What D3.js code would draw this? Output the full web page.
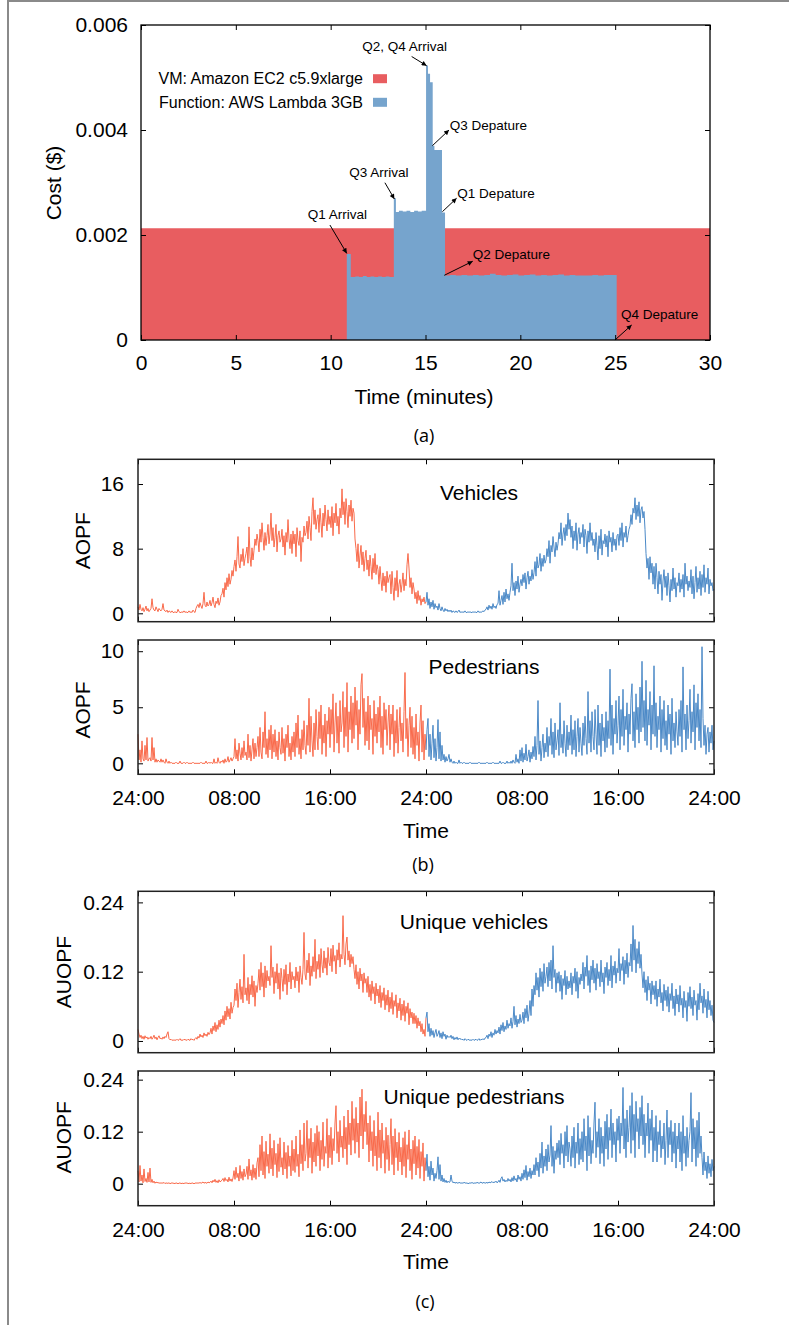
<!DOCTYPE html>
<html><head><meta charset="utf-8">
<script src="https://cdn.jsdelivr.net/npm/d3@7"></script>
<style>
body{margin:0;background:#fff;}
svg{display:block;font-family:"Liberation Sans",Arial,Helvetica,sans-serif;}
</style></head><body>
<svg id="c" width="789" height="1325"></svg>
<script>
// ---------------- DATA ----------------
// (a) cost over time (minutes)
const vmTime = [0, 30];
const vmCost = [0.00213, 0.00213];
const fnTime = [10.85,11.06,11.3,11.5,11.7,11.9,12.1,12.3,12.5,12.7,12.9,13.1,
  13.33,13.44,13.6,13.8,14.0,14.2,14.4,14.6,14.8,
  15.03,15.13,15.24,15.38,15.47,15.87,
  16.03,16.3,16.6,16.9,17.2,17.5,17.8,18.1,18.4,18.7,19.0,19.3,19.6,19.9,20.2,20.5,20.8,
  21.1,21.4,21.7,22.0,22.3,22.6,22.9,23.2,23.5,23.8,24.1,24.4,24.7,25.08];
const fnCost = [0.00164,0.00120,0.00121,0.00120,0.00122,0.00120,0.00121,0.00120,0.00121,0.00120,0.00121,0.00120,
  0.00270,0.00244,0.00246,0.00245,0.00246,0.00244,0.00246,0.00245,0.00246,
  0.00523,0.00507,0.00491,0.00370,0.00362,0.00243,
  0.00123,0.00124,0.00123,0.00124,0.00123,0.00124,0.00123,0.00124,0.00126,0.00124,0.00123,0.00124,0.00125,0.00123,0.00124,0.00125,0.00123,
  0.00124,0.00123,0.00124,0.00125,0.00123,0.00124,0.00123,0.00123,0.00123,0.00124,0.00123,0.00124,0.00124,0];
const costTicks = [0, 0.002, 0.004, 0.006];
const costTickLabels = ["0", "0.002", "0.004", "0.006"];
const minuteTicks = [0, 5, 10, 15, 20, 25, 30];
const legendLabels = ["VM: Amazon EC2 c5.9xlarge", "Function: AWS Lambda 3GB"];
// annotations in data units: text anchor point, arrow start, arrow tip
const annotations = [
  {label:"Q1 Arrival",     tx:10.36, ty:0.002394, ax:9.96,  ay:0.00219,  bx:10.85, by:0.00165},
  {label:"Q3 Arrival",     tx:12.54, ty:0.003194, ax:12.86, ay:0.002996, bx:13.36, by:0.002686},
  {label:"Q2, Q4 Arrival", tx:13.90, ty:0.0056,   ax:14.27, ay:0.0054,   bx:15.06, by:0.005225},
  {label:"Q3 Depature",    tx:16.28, ty:0.00409,  ax:15.36, ay:0.0037,   bx:16.24, by:0.0040},
  {label:"Q1 Depature",    tx:16.68, ty:0.002794, ax:15.89, ay:0.002444, bx:16.64, by:0.0027},
  {label:"Q2 Depature",    tx:17.49, ty:0.001632, ax:15.99, ay:0.001232, bx:17.49, by:0.0015},
  {label:"Q4 Depature",    tx:25.31, ty:0.00049,  ax:24.99, ay:0.0,      bx:25.87, by:0.000286}
];

// (b),(c) two days, one sample every 5 minutes (12 per hour), hours 0..48
const hourTicks = [0, 8, 16, 24, 32, 40, 48];
const hourTickLabels = ["24:00","08:00","16:00","24:00","08:00","16:00","24:00"];
const samplesPerHour = 12;
const vehicles = [
0.8,0.4,1.1,0.5,0.3,0.7,0.2,0.5,0.9,0.3,0.6,0.2,
0.4,0.6,1.8,0.7,0.4,0.3,0.8,0.5,0.2,0.6,0.4,0.3,
0.5,1.2,0.4,0.3,0.2,0.4,0.1,0.3,0.2,0.1,0.3,0.1,
0.1,0.2,0.1,0.1,0.5,0.2,0.1,0.1,0.2,0.1,0.3,0.1,
0.2,0.1,0.1,0.3,0.1,0.2,0.1,0.4,0.2,0.1,0.6,0.9,
1.1,0.7,1.3,0.9,0.6,1.2,2.6,1.0,0.8,1.4,0.9,1.1,
1.6,0.9,1.3,2.0,1.1,0.7,1.5,1.2,1.9,1.0,1.4,2.2,
2.4,3.1,2.0,3.8,2.9,4.4,3.3,4.9,3.6,4.2,5.3,4.6,
5.8,6.6,5.2,7.0,9.5,6.1,5.6,7.3,6.4,8.0,5.9,6.8,
7.4,8.2,6.2,10.7,7.0,5.8,8.1,6.6,7.8,9.2,8.4,9.8,
9.0,7.6,10.4,8.8,11.2,9.4,7.8,10.0,8.4,9.6,11.0,8.6,
9.8,12.4,9.0,10.6,8.2,9.4,11.0,7.6,9.6,10.2,8.8,9.2,
10.4,8.2,9.6,7.2,10.0,8.8,11.6,9.2,8.0,9.8,7.4,10.2,
8.6,9.8,7.0,10.6,9.0,8.4,10.2,6.4,9.4,8.8,10.8,9.6,
10.0,11.4,9.2,12.0,10.6,9.0,12.6,14.3,11.0,12.8,10.4,11.6,
12.2,10.0,13.0,11.2,9.4,12.4,10.8,13.4,11.6,10.2,12.8,11.0,
12.0,10.6,13.2,9.6,12.4,11.2,13.6,10.8,12.0,9.8,13.0,11.8,
15.4,12.2,13.8,11.0,14.2,12.6,10.6,13.4,12.0,14.0,11.4,13.0,
12.4,9.2,8.0,6.4,8.6,5.6,7.2,8.4,6.0,7.6,5.2,6.8,
7.8,5.4,6.6,4.6,7.2,5.8,4.2,6.8,5.0,7.4,4.8,6.0,
5.4,3.6,5.8,4.2,2.8,5.0,3.4,4.6,2.6,5.2,3.8,4.4,
4.8,2.4,5.2,3.2,1.6,4.4,2.8,5.3,2.0,3.6,4.2,2.6,
3.6,5.0,2.8,4.2,3.4,6.0,7.4,5.6,3.2,4.4,2.4,3.8,
3.0,1.8,2.6,1.2,2.8,1.6,2.2,1.0,1.8,1.4,2.0,1.2,
1.4,2.6,1.0,1.8,0.6,1.4,0.8,1.6,0.5,1.2,0.7,0.9,
0.4,1.2,0.6,0.3,0.8,0.4,0.2,0.6,0.3,0.5,0.2,0.4,
0.2,0.4,0.1,0.3,0.2,0.1,0.3,0.1,0.2,0.4,0.1,0.2,
0.1,0.2,0.1,0.3,0.1,0.1,0.2,0.1,0.2,0.1,0.1,0.2,
0.1,0.2,0.1,0.1,0.3,0.1,0.2,0.1,0.2,0.3,0.2,0.4,
0.5,0.8,0.4,1.0,0.6,0.9,0.5,1.2,0.7,0.9,0.6,1.1,
1.2,2.8,1.0,1.6,2.2,1.1,2.6,1.4,3.0,1.8,2.4,1.6,
2.6,3.4,6.2,2.8,3.8,2.2,4.0,3.0,4.6,2.6,3.6,4.2,
3.4,4.8,3.8,5.0,3.0,4.4,5.2,3.6,4.6,4.0,5.4,4.2,
5.0,6.4,4.6,7.0,5.6,6.0,7.4,5.2,6.8,5.8,7.2,6.2,
6.6,8.0,7.0,9.0,6.2,8.4,7.6,9.5,8.2,7.0,8.8,7.8,
8.6,10.0,9.2,11.2,8.4,9.8,10.6,9.0,11.0,9.6,12.4,10.4,
11.6,9.4,10.8,8.0,10.2,9.0,11.2,7.8,9.8,10.6,8.6,10.0,
9.4,11.0,8.2,10.4,9.6,7.4,10.2,8.8,11.2,9.0,10.0,8.4,
9.2,7.6,10.0,8.4,6.6,9.6,8.0,10.4,7.2,9.0,8.6,9.8,
8.2,9.6,7.0,10.2,8.8,9.4,7.6,10.0,8.4,9.2,7.8,9.6,
9.8,8.4,10.6,9.0,11.2,8.2,10.0,9.4,10.8,8.8,9.6,10.4,
10.8,12.2,11.0,13.0,12.4,14.3,11.6,13.4,12.0,13.8,11.2,12.8,
13.2,11.8,12.6,10.4,7.4,5.6,6.8,4.2,7.0,5.0,6.2,3.6,
5.8,3.0,6.2,4.4,2.4,5.2,3.6,4.8,1.6,4.0,5.4,3.2,
4.6,2.2,5.0,3.4,1.4,4.2,2.8,5.6,3.0,4.4,2.0,3.8,
3.4,5.0,2.6,4.2,3.0,4.8,2.0,6.2,3.6,4.6,2.8,4.0,
3.2,5.4,2.4,4.6,1.8,3.8,5.8,2.6,4.4,3.0,5.2,2.2,
4.8,3.2,6.0,2.6,4.4,3.6,5.6,2.4,4.2,3.4,3.8,2.8,
3.0];
const pedestrians = [
2.6,0.3,1.2,0.1,2.0,0.4,0.2,1.6,0.3,2.3,0.2,0.4,
0.5,0.2,2.3,0.3,1.4,0.1,0.4,0.1,0.3,0.2,0.1,0.4,
0.1,0.3,0.1,0.0,0.4,0.1,0.0,0.2,0.0,0.1,0.0,0.0,
0.0,0.0,0.1,0.0,0.0,0.0,0.2,0.0,0.0,0.0,0.1,0.0,
0.0,0.1,0.0,0.0,0.0,0.0,0.0,0.1,0.0,0.0,0.0,0.0,
0.0,0.0,0.0,0.1,0.0,0.0,0.0,0.0,0.2,0.0,0.0,0.1,
0.0,0.1,0.0,0.0,0.4,0.0,0.1,0.0,0.5,0.1,0.0,0.2,
0.1,0.3,0.0,0.4,0.1,0.2,0.6,0.1,0.3,0.5,0.2,0.4,
0.6,2.2,0.4,1.2,0.2,1.8,0.9,0.3,1.4,0.5,2.0,0.7,
1.0,0.3,2.6,0.5,1.6,0.2,1.2,2.2,0.4,1.8,0.6,1.4,
2.4,0.6,3.2,1.0,0.4,2.8,1.4,4.6,0.8,2.2,0.5,3.0,
1.2,3.4,0.4,2.6,1.0,3.0,0.6,2.0,0.3,2.8,1.4,0.8,
3.2,0.9,2.2,0.2,2.6,1.4,3.4,0.6,1.8,0.3,2.4,1.0,
2.8,0.6,3.6,1.4,4.3,0.8,2.2,0.4,3.0,1.2,3.8,1.6,
0.8,3.4,1.6,5.8,1.0,4.2,2.0,0.6,3.6,1.2,4.8,2.4,
1.2,4.6,2.2,5.2,0.8,3.4,1.8,4.4,0.6,3.8,2.6,5.0,
1.4,4.8,2.6,6.2,1.0,3.6,5.4,1.8,4.2,0.9,5.6,2.8,
3.6,6.4,1.4,5.0,2.4,7.2,1.0,4.6,3.0,6.0,1.8,5.4,
2.2,6.8,3.4,5.6,1.2,4.8,2.6,7.0,8.0,3.2,5.8,1.6,
4.6,2.0,6.0,1.2,5.2,3.0,4.0,0.8,5.6,2.4,4.4,1.8,
5.0,2.8,6.0,1.4,4.2,0.8,5.4,3.0,4.8,1.6,3.6,5.2,
1.2,4.4,2.6,5.2,0.6,3.8,1.8,4.8,0.9,3.2,5.0,2.0,
3.6,1.0,4.6,8.1,2.2,4.0,0.6,3.4,5.0,1.4,4.2,0.8,
3.2,0.4,4.4,1.6,2.8,0.2,3.6,5.2,1.0,3.8,0.3,2.6,
1.2,3.0,4.0,0.6,2.6,0.3,1.8,3.4,0.5,2.2,0.2,1.4,
3.9,0.4,2.8,0.2,1.6,0.3,0.8,0.1,0.6,0.2,0.4,0.8,
0.1,0.4,0.1,0.0,0.2,0.0,0.1,0.0,0.0,0.3,0.0,0.1,
0.0,0.0,0.1,0.0,0.0,0.0,0.0,0.0,0.1,0.0,0.0,0.0,
0.0,0.0,0.0,0.0,0.0,0.1,0.0,0.0,0.0,0.0,0.0,0.0,
0.0,0.1,0.0,0.0,0.0,0.0,0.0,0.1,0.0,0.0,0.0,0.0,
0.0,0.0,0.2,0.0,0.0,0.1,0.0,0.0,0.0,0.2,0.0,0.1,
0.0,0.2,0.0,0.3,0.1,0.0,0.8,0.1,0.4,0.0,1.2,0.2,
1.4,0.1,0.9,0.3,1.7,0.2,0.6,1.2,0.1,1.0,0.4,1.5,
0.6,2.4,0.3,1.6,5.6,0.8,2.0,0.2,1.4,2.6,0.5,1.8,
1.0,3.2,0.6,2.4,1.6,4.0,0.8,2.8,0.5,3.6,1.2,2.0,
3.0,0.7,5.4,1.4,2.6,0.9,3.8,1.8,0.6,3.4,1.2,2.8,
1.6,4.3,0.8,3.0,1.2,3.8,0.6,2.4,4.0,1.0,3.2,1.8,
0.7,3.6,1.6,4.2,2.2,0.8,6.4,1.8,3.8,1.0,4.6,2.4,
1.2,4.8,2.6,0.8,5.2,1.6,3.6,0.6,4.4,2.0,3.2,1.0,
4.6,1.4,3.8,2.2,8.4,1.6,5.2,0.8,4.0,2.6,5.6,1.8,
3.4,6.0,1.2,4.8,2.4,6.6,1.6,4.2,3.0,5.4,1.0,4.4,
2.6,5.8,7.1,2.0,4.6,1.4,6.2,3.0,5.0,1.8,6.8,2.8,
9.1,3.2,5.6,2.0,7.4,1.6,4.8,3.4,6.4,1.2,5.2,2.6,
8.7,2.4,5.4,1.4,4.2,3.0,6.0,1.0,4.8,2.2,5.6,1.6,
3.8,1.2,5.2,2.6,4.4,0.8,5.8,2.0,3.6,1.4,4.6,2.8,
1.6,4.8,2.4,5.6,1.0,8.6,3.0,4.4,1.2,5.2,2.2,3.8,
6.6,1.8,4.6,2.8,7.0,1.2,5.4,3.2,6.2,2.0,4.8,1.4,
10.4,4.0,1.6,3.4,0.8,2.6,3.2,1.0,2.8,1.8,3.4,1.2,
2.0];
const uniqueVehicles = [
0.020,0.012,0.006,0.010,0.004,0.008,0.003,0.009,0.005,0.007,0.003,0.006,
0.004,0.008,0.003,0.006,0.010,0.004,0.007,0.002,0.006,0.009,0.004,0.005,
0.003,0.007,0.004,0.008,0.006,0.012,0.016,0.004,0.002,0.003,0.001,0.002,
0.001,0.002,0.001,0.003,0.001,0.002,0.004,0.001,0.002,0.001,0.003,0.002,
0.002,0.001,0.003,0.002,0.001,0.004,0.002,0.003,0.001,0.004,0.006,0.003,
0.008,0.005,0.012,0.007,0.010,0.006,0.014,0.009,0.012,0.008,0.015,0.011,
0.014,0.022,0.012,0.026,0.018,0.032,0.016,0.028,0.020,0.036,0.024,0.038,
0.030,0.044,0.028,0.052,0.036,0.060,0.042,0.056,0.038,0.067,0.048,0.058,
0.062,0.090,0.070,0.100,0.058,0.084,0.107,0.072,0.094,0.066,0.150,0.080,
0.092,0.070,0.110,0.064,0.098,0.080,0.113,0.076,0.104,0.060,0.096,0.084,
0.100,0.124,0.088,0.136,0.094,0.118,0.076,0.130,0.092,0.122,0.104,0.112,
0.096,0.165,0.110,0.128,0.082,0.120,0.100,0.134,0.090,0.118,0.072,0.126,
0.108,0.086,0.124,0.098,0.132,0.080,0.116,0.102,0.136,0.090,0.120,0.106,
0.112,0.092,0.128,0.104,0.120,0.084,0.130,0.110,0.098,0.124,0.188,0.116,
0.106,0.140,0.118,0.152,0.096,0.130,0.112,0.146,0.120,0.176,0.108,0.138,
0.124,0.150,0.110,0.160,0.132,0.118,0.156,0.126,0.144,0.114,0.162,0.136,
0.130,0.160,0.120,0.166,0.138,0.148,0.116,0.158,0.140,0.170,0.128,0.150,
0.142,0.217,0.150,0.132,0.168,0.180,0.140,0.156,0.128,0.150,0.134,0.146,
0.124,0.108,0.132,0.098,0.120,0.090,0.126,0.104,0.116,0.084,0.118,0.100,
0.108,0.084,0.112,0.076,0.098,0.070,0.104,0.082,0.094,0.064,0.100,0.078,
0.090,0.066,0.096,0.058,0.084,0.070,0.092,0.054,0.080,0.062,0.088,0.050,
0.076,0.056,0.084,0.046,0.070,0.060,0.080,0.040,0.066,0.052,0.074,0.036,
0.064,0.044,0.070,0.034,0.060,0.048,0.066,0.028,0.056,0.040,0.050,0.030,
0.048,0.030,0.044,0.022,0.040,0.026,0.034,0.016,0.030,0.012,0.020,0.008,
0.040,0.050,0.016,0.030,0.008,0.022,0.010,0.018,0.006,0.014,0.020,0.008,
0.012,0.018,0.006,0.014,0.004,0.016,0.008,0.012,0.003,0.010,0.006,0.008,
0.006,0.010,0.004,0.008,0.002,0.006,0.003,0.007,0.002,0.005,0.003,0.004,
0.002,0.003,0.001,0.004,0.002,0.001,0.003,0.002,0.001,0.002,0.001,0.003,
0.001,0.002,0.003,0.001,0.002,0.004,0.001,0.003,0.002,0.004,0.002,0.005,
0.006,0.010,0.004,0.012,0.008,0.016,0.006,0.014,0.010,0.020,0.012,0.018,
0.014,0.024,0.012,0.028,0.018,0.032,0.016,0.026,0.020,0.036,0.022,0.030,
0.026,0.040,0.022,0.034,0.060,0.028,0.044,0.024,0.038,0.030,0.046,0.032,
0.036,0.050,0.030,0.056,0.040,0.062,0.034,0.048,0.070,0.044,0.090,0.060,
0.096,0.080,0.118,0.088,0.110,0.076,0.126,0.094,0.120,0.086,0.134,0.100,
0.112,0.128,0.094,0.136,0.104,0.140,0.090,0.165,0.110,0.124,0.084,0.118,
0.100,0.120,0.086,0.114,0.072,0.108,0.096,0.122,0.080,0.112,0.090,0.104,
0.092,0.118,0.080,0.112,0.100,0.126,0.086,0.120,0.074,0.110,0.098,0.116,
0.104,0.136,0.090,0.128,0.112,0.148,0.096,0.122,0.084,0.130,0.106,0.140,
0.100,0.126,0.088,0.134,0.108,0.120,0.094,0.140,0.102,0.118,0.082,0.128,
0.110,0.136,0.096,0.124,0.104,0.148,0.092,0.130,0.114,0.138,0.100,0.126,
0.118,0.160,0.104,0.134,0.122,0.146,0.098,0.140,0.116,0.152,0.110,0.136,
0.130,0.168,0.120,0.200,0.140,0.176,0.118,0.160,0.134,0.172,0.126,0.150,
0.116,0.092,0.120,0.084,0.106,0.070,0.112,0.088,0.100,0.064,0.104,0.080,
0.096,0.072,0.104,0.060,0.090,0.076,0.107,0.066,0.084,0.052,0.098,0.070,
0.088,0.060,0.094,0.050,0.082,0.070,0.100,0.056,0.078,0.044,0.090,0.064,
0.080,0.050,0.096,0.062,0.074,0.040,0.086,0.058,0.070,0.034,0.084,0.060,
0.094,0.056,0.076,0.044,0.088,0.062,0.070,0.036,0.082,0.054,0.100,0.066,
0.078,0.048,0.090,0.058,0.072,0.040,0.086,0.054,0.070,0.044,0.062,0.036,
0.032];
const uniquePedestrians = [
0.030,0.004,0.042,0.006,0.020,0.002,0.034,0.005,0.012,0.003,0.026,0.004,
0.036,0.003,0.010,0.002,0.006,0.001,0.004,0.002,0.003,0.001,0.002,0.001,
0.002,0.001,0.003,0.000,0.002,0.001,0.001,0.002,0.000,0.001,0.002,0.001,
0.001,0.000,0.002,0.001,0.000,0.001,0.002,0.000,0.001,0.001,0.000,0.002,
0.001,0.002,0.000,0.001,0.001,0.000,0.002,0.001,0.000,0.001,0.002,0.001,
0.002,0.001,0.003,0.001,0.002,0.004,0.001,0.003,0.002,0.001,0.004,0.002,
0.003,0.006,0.002,0.008,0.004,0.010,0.003,0.007,0.002,0.009,0.004,0.006,
0.008,0.012,0.005,0.014,0.007,0.010,0.004,0.015,0.006,0.011,0.005,0.013,
0.030,0.010,0.038,0.014,0.024,0.006,0.042,0.012,0.028,0.008,0.034,0.016,
0.022,0.040,0.010,0.057,0.018,0.032,0.008,0.044,0.014,0.036,0.010,0.048,
0.060,0.016,0.090,0.030,0.110,0.020,0.074,0.012,0.098,0.040,0.068,0.024,
0.115,0.034,0.082,0.018,0.100,0.044,0.070,0.014,0.092,0.028,0.106,0.038,
0.060,0.020,0.096,0.034,0.072,0.012,0.088,0.040,0.064,0.018,0.100,0.030,
0.080,0.026,0.110,0.040,0.068,0.016,0.124,0.046,0.090,0.030,0.140,0.052,
0.070,0.146,0.036,0.104,0.060,0.128,0.024,0.096,0.050,0.116,0.040,0.134,
0.064,0.120,0.030,0.100,0.056,0.142,0.040,0.086,0.070,0.150,0.036,0.112,
0.060,0.130,0.044,0.104,0.076,0.140,0.180,0.070,0.120,0.050,0.146,0.084,
0.110,0.060,0.156,0.080,0.130,0.044,0.170,0.090,0.140,0.066,0.190,0.100,
0.150,0.070,0.176,0.096,0.140,0.060,0.200,0.110,0.218,0.080,0.160,0.120,
0.190,0.090,0.140,0.050,0.157,0.076,0.120,0.040,0.146,0.064,0.110,0.030,
0.165,0.060,0.124,0.036,0.140,0.070,0.100,0.024,0.130,0.056,0.112,0.030,
0.090,0.150,0.044,0.110,0.020,0.127,0.060,0.096,0.030,0.118,0.050,0.084,
0.020,0.106,0.040,0.120,0.014,0.090,0.056,0.124,0.030,0.080,0.010,0.100,
0.046,0.110,0.020,0.086,0.036,0.102,0.012,0.074,0.040,0.094,0.006,0.060,
0.030,0.068,0.016,0.040,0.008,0.052,0.020,0.036,0.006,0.024,0.012,0.030,
0.062,0.010,0.044,0.006,0.020,0.004,0.012,0.003,0.008,0.002,0.006,0.003,
0.004,0.020,0.006,0.002,0.004,0.001,0.003,0.002,0.001,0.003,0.002,0.001,
0.002,0.001,0.003,0.002,0.001,0.002,0.000,0.001,0.002,0.001,0.003,0.001,
0.001,0.002,0.001,0.003,0.002,0.001,0.002,0.004,0.001,0.002,0.003,0.001,
0.002,0.003,0.001,0.004,0.002,0.003,0.005,0.002,0.004,0.003,0.006,0.002,
0.004,0.008,0.003,0.012,0.016,0.006,0.010,0.004,0.008,0.005,0.012,0.006,
0.010,0.004,0.014,0.006,0.018,0.008,0.012,0.004,0.020,0.010,0.016,0.006,
0.024,0.010,0.032,0.014,0.042,0.008,0.028,0.016,0.036,0.012,0.030,0.020,
0.044,0.020,0.060,0.030,0.050,0.016,0.070,0.036,0.096,0.024,0.064,0.040,
0.080,0.030,0.090,0.050,0.066,0.134,0.040,0.086,0.024,0.076,0.056,0.094,
0.060,0.100,0.044,0.116,0.070,0.090,0.036,0.120,0.064,0.134,0.050,0.096,
0.080,0.040,0.110,0.060,0.130,0.036,0.096,0.070,0.140,0.044,0.104,0.056,
0.120,0.050,0.150,0.076,0.110,0.030,0.157,0.064,0.130,0.046,0.100,0.070,
0.140,0.188,0.060,0.120,0.084,0.150,0.046,0.130,0.070,0.110,0.040,0.144,
0.080,0.160,0.056,0.130,0.100,0.172,0.060,0.140,0.090,0.120,0.050,0.150,
0.100,0.156,0.070,0.140,0.110,0.222,0.080,0.150,0.060,0.170,0.096,0.130,
0.180,0.070,0.210,0.100,0.160,0.060,0.190,0.120,0.150,0.080,0.176,0.110,
0.203,0.090,0.160,0.060,0.140,0.110,0.186,0.070,0.150,0.100,0.170,0.050,
0.130,0.076,0.157,0.050,0.120,0.090,0.146,0.060,0.110,0.080,0.140,0.044,
0.100,0.170,0.060,0.130,0.090,0.146,0.050,0.120,0.070,0.140,0.036,0.110,
0.080,0.140,0.050,0.120,0.030,0.157,0.070,0.110,0.040,0.130,0.060,0.100,
0.120,0.210,0.050,0.150,0.080,0.130,0.040,0.146,0.060,0.165,0.070,0.110,
0.060,0.020,0.073,0.030,0.050,0.012,0.064,0.024,0.046,0.016,0.056,0.030,
0.040];

// ---------------- STYLE / LAYOUT ----------------
const RED_A = "#e85d60", BLUE_A = "#76a4cd";
const ORANGE = "#f96a4b", BLUE = "#4b89c7";
const AXIS_FONT = 21;
const svg = d3.select("#c");

// page frame (top + left)
svg.append("path").attr("d","M8,1325V1H789").attr("fill","none").attr("stroke","#8a8a8a").attr("stroke-width",2);

function styleAxis(g, fontSize){
  g.select(".domain").remove();
  g.selectAll("line").attr("stroke","#000").attr("stroke-width",1);
  g.selectAll("text").attr("font-size",fontSize).attr("font-family",'"Liberation Sans",Arial,sans-serif').attr("fill","#000");
}

// ---------------- (a) ----------------
{
  const L=141,R=710,T=25,B=340;
  const x=d3.scaleLinear([0,30],[L,R]);
  const y=d3.scaleLinear([0,0.006],[B,T]);
  const area=d3.area().curve(d3.curveStepAfter).x(d=>x(d[0])).y0(y(0)).y1(d=>y(d[1]));
  svg.append("path").datum(d3.zip(vmTime,vmCost)).attr("d",area).attr("fill",RED_A);
  svg.append("path").datum(d3.zip(fnTime,fnCost)).attr("d",area).attr("fill",BLUE_A);

  svg.append("g").attr("transform",`translate(${L},0)`)
    .call(d3.axisLeft(y).tickValues(costTicks).tickFormat((d,i)=>costTickLabels[i]).tickSize(-5).tickPadding(13))
    .call(g=>styleAxis(g,AXIS_FONT));
  svg.append("g").attr("transform",`translate(${R},0)`)
    .call(d3.axisRight(y).tickValues(costTicks).tickFormat("").tickSize(-5)).call(g=>styleAxis(g,AXIS_FONT));
  svg.append("g").attr("transform",`translate(0,${B})`)
    .call(d3.axisBottom(x).tickValues(minuteTicks).tickFormat(d3.format("d")).tickSize(-5).tickPadding(15.5))
    .call(g=>styleAxis(g,AXIS_FONT));
  svg.append("g").attr("transform",`translate(0,${T})`)
    .call(d3.axisTop(x).tickValues(minuteTicks).tickFormat("").tickSize(-5)).call(g=>styleAxis(g,AXIS_FONT));
  svg.append("rect").attr("x",L).attr("y",T).attr("width",R-L).attr("height",B-T)
    .attr("fill","none").attr("stroke","#000").attr("stroke-width",1.3);

  // legend
  const lg=svg.append("g");
  [RED_A,BLUE_A].forEach((c,i)=>{
    const cy=78.7+i*23.6;
    lg.append("text").attr("x",363).attr("y",cy).attr("text-anchor","end").attr("dominant-baseline","central")
      .attr("font-size",16).text(legendLabels[i]);
    lg.append("rect").attr("x",373).attr("y",cy-4.5).attr("width",14).attr("height",9).attr("fill",c);
  });

  // annotations
  svg.append("defs").append("marker").attr("id","arr").attr("viewBox","0 0 10 10").attr("refX",10).attr("refY",5)
    .attr("markerWidth",7).attr("markerHeight",5).attr("markerUnits","userSpaceOnUse").attr("orient","auto")
    .append("path").attr("d","M0,0L10,5L0,10z").attr("fill","#000");
  annotations.forEach(a=>{
    svg.append("line").attr("x1",x(a.ax)).attr("y1",y(a.ay)).attr("x2",x(a.bx)).attr("y2",y(a.by))
      .attr("stroke","#000").attr("stroke-width",1).attr("marker-end","url(#arr)");
    svg.append("text").attr("x",x(a.tx)).attr("y",y(a.ty))
      .attr("text-anchor",a.label.includes("Arrival")?"middle":"start").attr("dominant-baseline","central")
      .attr("font-size",13.5).text(a.label);
  });

  svg.append("text").attr("transform","translate(53,183) rotate(-90)").attr("text-anchor","middle")
    .attr("dominant-baseline","central").attr("font-size",AXIS_FONT).text("Cost ($)");
  svg.append("text").attr("x",424).attr("y",396).attr("text-anchor","middle").attr("dominant-baseline","central")
    .attr("font-size",AXIS_FONT).text("Time (minutes)");
  svg.append("text").attr("x",424).attr("y",435).attr("text-anchor","middle").attr("dominant-baseline","central")
    .attr("font-size",18).attr("font-family",'"Open Sans",sans-serif').text("(a)");
}

// ---------------- (b), (c) ----------------
const xT=d3.scaleLinear([0,48],[138,714]);
const panels=[
  {values:vehicles, top:459.3, bottom:621.7, domain:[-1.04,19.06], ticks:[0,8,16], labels:["0","8","16"],
   ylab:"AOPF", ylabX:82, ylabY:540.7, title:"Vehicles", titleX:479, titleY:492.7, xlabels:false},
  {values:pedestrians, top:640, bottom:774.3, domain:[-0.98,11.0], ticks:[0,5,10], labels:["0","5","10"],
   ylab:"AOPF", ylabX:82, ylabY:710, title:"Pedestrians", titleX:484, titleY:666.7, xlabels:true},
  {values:uniqueVehicles, top:891.3, bottom:1052.7, domain:[-0.0203,0.2592], ticks:[0,0.12,0.24], labels:["0","0.12","0.24"],
   ylab:"AUOPF", ylabX:63.3, ylabY:972, title:"Unique vehicles", titleX:474, titleY:921, xlabels:false},
  {values:uniquePedestrians, top:1071, bottom:1205.7, domain:[-0.0508,0.26], ticks:[0,0.12,0.24], labels:["0","0.12","0.24"],
   ylab:"AUOPF", ylabX:63.3, ylabY:1137.3, title:"Unique pedestrians", titleX:474, titleY:1096, xlabels:true}
];
panels.forEach(p=>{
  const y=d3.scaleLinear(p.domain,[p.bottom,p.top]);
  const pts=p.values.map((v,i)=>[i/samplesPerHour,v]);
  const line=d3.line().x(d=>xT(d[0])).y(d=>y(d[1]));
  svg.append("path").datum(pts.filter(d=>d[0]<=24)).attr("d",line).attr("fill","none")
    .attr("stroke",ORANGE).attr("stroke-width",1).attr("stroke-linejoin","round");
  svg.append("path").datum(pts.filter(d=>d[0]>=24)).attr("d",line).attr("fill","none")
    .attr("stroke",BLUE).attr("stroke-width",1).attr("stroke-linejoin","round");

  svg.append("g").attr("transform","translate(138,0)")
    .call(d3.axisLeft(y).tickValues(p.ticks).tickFormat((d,i)=>p.labels[i]).tickSize(-5).tickPadding(14))
    .call(g=>styleAxis(g,AXIS_FONT));
  svg.append("g").attr("transform","translate(714,0)")
    .call(d3.axisRight(y).tickValues(p.ticks).tickFormat("").tickSize(-5)).call(g=>styleAxis(g,AXIS_FONT));
  svg.append("g").attr("transform",`translate(0,${p.bottom})`)
    .call(d3.axisBottom(xT).tickValues(hourTicks).tickFormat((d,i)=>p.xlabels?hourTickLabels[i]:"").tickSize(-5).tickPadding(16))
    .call(g=>styleAxis(g,AXIS_FONT));
  svg.append("g").attr("transform",`translate(0,${p.top})`)
    .call(d3.axisTop(xT).tickValues(hourTicks).tickFormat("").tickSize(-5)).call(g=>styleAxis(g,AXIS_FONT));
  svg.append("rect").attr("x",138).attr("y",p.top).attr("width",576).attr("height",p.bottom-p.top)
    .attr("fill","none").attr("stroke","#222").attr("stroke-width",1.5);

  svg.append("text").attr("x",p.titleX).attr("y",p.titleY).attr("text-anchor","middle").attr("dominant-baseline","central")
    .attr("font-size",21).text(p.title);
  svg.append("text").attr("transform",`translate(${p.ylabX},${p.ylabY}) rotate(-90)`).attr("text-anchor","middle")
    .attr("dominant-baseline","central").attr("font-size",AXIS_FONT).text(p.ylab);
});
[["Time",426,830.7],["Time",426,1261.7]].forEach(t=>{
  svg.append("text").attr("x",t[1]).attr("y",t[2]).attr("text-anchor","middle").attr("dominant-baseline","central")
    .attr("font-size",AXIS_FONT).text(t[0]);
});
[["(b)",423,864],["(c)",425,1300.7]].forEach(t=>{
  svg.append("text").attr("x",t[1]).attr("y",t[2]).attr("text-anchor","middle").attr("dominant-baseline","central")
    .attr("font-size",18).attr("font-family",'"Open Sans",sans-serif').text(t[0]);
});
</script>
</body></html>
